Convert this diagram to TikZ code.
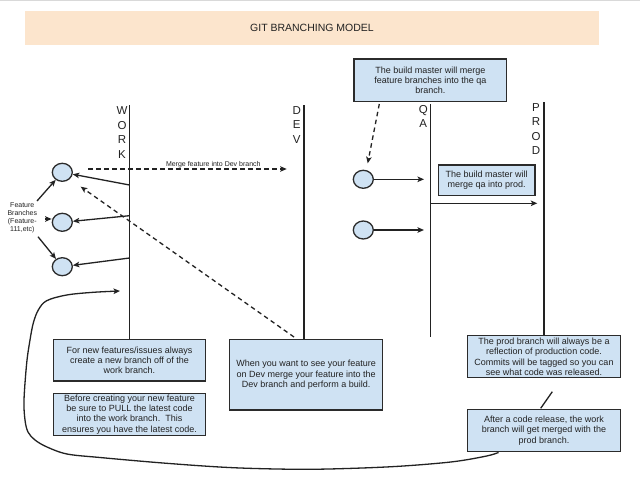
\documentclass[tikz,border=0pt]{standalone}
\usepackage{fontspec}
\setmainfont{Liberation Sans}
\usetikzlibrary{shapes.geometric,arrows.meta,calc}
\definecolor{boxblue}{HTML}{CFE2F3}
\definecolor{banner}{HTML}{FCE5CD}
\definecolor{ink}{HTML}{222222}
\definecolor{edge}{HTML}{2B2B2B}
\begin{document}
\begin{tikzpicture}[x=1pt,y=-1pt,
  line/.style={draw=ink, line width=1.3pt},
  arr/.style={line, -{Stealth[length=6.5pt,width=5.5pt,inset=1.5pt]}},
  darr/.style={arr, dash pattern=on 4.5pt off 3.5pt},
  infobox/.style={draw=edge, line width=1.5pt, fill=boxblue, inner sep=0pt, align=center, font=\fontsize{9}{10.3}\selectfont, text=ink},
  featnode/.style={ellipse, draw=edge, line width=1.3pt, fill=boxblue, minimum width=20pt, minimum height=18pt, inner sep=0pt},
  branchlbl/.style={align=center, inner sep=0pt, font=\fontsize{11.5}{14.5}\selectfont, text=ink, anchor=north},
  smalltext/.style={align=center, inner sep=0pt, font=\fontsize{7}{8.2}\selectfont, text=ink},
]
\useasboundingbox (0,0) rectangle (640,479);
\fill[white] (0,0) rectangle (640,479);
\draw[draw=black!15, line width=1pt] (0,0.5) -- (640,0.5);

% title banner
\node[fill=banner, minimum width=574pt, minimum height=34.3pt, inner sep=0pt,
      font=\fontsize{10.5}{12}\selectfont, text=ink] (title) at (312,27.8) {GIT BRANCHING MODEL};

% info boxes
\node[infobox, minimum width=152.7pt, minimum height=42.7pt] (bm) at (430.3,80.3)
  {The build master will merge\\feature branches into the qa\\branch.};
\node[infobox, minimum width=96.7pt, minimum height=30.7pt] (qp) at (486.6,180.3)
  {The build master will\\merge qa into prod.};
\node[infobox, minimum width=152.4pt, minimum height=41.7pt] (b1) at (129.5,360.2)
  {For new features/issues always\\create a new branch off of the\\work branch.};
\node[infobox, minimum width=152.4pt, minimum height=42pt] (b2) at (129.5,414.3)
  {Before creating your new feature\\be sure to PULL the latest code\\into the work branch.\ \ This\\ensures you have the latest code.};
\node[infobox, minimum width=153.2pt, minimum height=70.7pt] (dv) at (306.1,374.7)
  {When you want to see your feature\\on Dev merge your feature into the\\Dev branch and perform a build.};
\node[infobox, minimum width=153.4pt, minimum height=42pt] (pr) at (544,356.7)
  {The prod branch will always be a\\reflection of production code.\\Commits will be tagged so you can\\see what code was released.};
\node[infobox, minimum width=153.4pt, minimum height=42.4pt] (rl) at (544,430.5)
  {After a code release, the work\\branch will get merged with the\\prod branch.};

% branch lines
\coordinate (wtop) at (129.5,105);
\coordinate (dtop) at (304,105);
\coordinate (qtop) at (430.7,104);
\coordinate (qbot) at (430.7,336.7);
\coordinate (ptop) at (544,102);
\draw[line] (wtop) -- (b1.north);
\draw[line] (dtop) -- (dtop |- dv.north);
\draw[line] (qtop) -- (qbot);
\draw[line] (ptop) -- (pr.north);

% branch letters
\node[branchlbl] (lwork) at (122,106.6) {W\\O\\R\\K};
\node[branchlbl] (ldev) at (296.7,105.9) {D\\E\\V};
\node[branchlbl] (lqa) at (423.3,105.2) {Q\\A};
\node[branchlbl] (lprod) at (536,103.2) {P\\R\\O\\D};

% feature branch circles
\node[featnode] (c1) at (62.3,172.3) {};
\node[featnode] (c2) at (62.3,222.3) {};
\node[featnode] (c3) at (62.3,266.7) {};
\node[featnode] (q1) at (363.3,179.3) {};
\node[featnode] (q2) at (363.3,230) {};

% feature branches label
\node[smalltext] (fb) at (22.3,218) {Feature\\Branches\\(Feature-\\111,etc)};
\coordinate (fb1) at (37,201);
\coordinate (fb2) at (45,219);
\coordinate (fb3) at (38,236.7);
\draw[arr] (fb1) -- (c1);
\draw[arr] (fb2) -- (fb2 -| c2.west);
\draw[arr] (fb3) -- (c3);

% work -> feature branches
\coordinate (w1) at (129.5,185);
\coordinate (w2) at (129.5,215.7);
\coordinate (w3) at (129.5,258);
\draw[arr] (w1) -- (c1);
\draw[arr] (w2) -- (c2);
\draw[arr] (w3) -- (c3);

% merge feature into dev
\coordinate (m1) at (88,169);
\coordinate (m2) at (286.7,169);
\draw[darr] (m1) -- (m2);
\node[smalltext] (mlbl) at (213.3,164.5) {Merge feature into Dev branch};

% dev box -> feature (dashed)
\coordinate (d1) at (294,337);
\coordinate (d2) at (80.7,186.7);
\draw[darr] (d1) -- (d2);

% build master -> qa circle (dashed)
\coordinate (bm1) at (379.3,104);
\coordinate (bm2) at (367.7,163.3);
\draw[darr] (bm1) -- (bm2);

% qa arrows
\coordinate (qa1) at (424,179.3);
\coordinate (qa2) at (424,230);
\draw[arr] (q1.east) -- (qa1);
\draw[arr] (q2.east) -- (qa2);
\coordinate (qp1) at (431,203.3);
\coordinate (qp2) at (537.3,203.3);
\draw[arr] (qp1) -- (qp2);

% link between prod box and release box
\coordinate (s1) at (552.3,391.7);
\coordinate (s2) at (540.7,408.3);
\draw[line] (s1) -- (s2);

% release -> work curve
\coordinate (rlc) at ($(rl.south west)+(32,0)$);
\coordinate (wc) at (120,291);
\draw[arr] plot[smooth, tension=0.55] coordinates {(rlc) (486.7,456) (453.3,461.7) (403.3,466) (353.3,468.3) (300,469.3) (233,467.7) (166.7,463.3) (100,457.5) (67,454) (47,447) (35,440) (28,432) (25,420) (24,400) (26.7,363) (30,340) (33.3,323) (38.3,310) (46.7,300.7) (66.7,295) (93.3,292.3) (wc)};
\end{tikzpicture}
\end{document}
